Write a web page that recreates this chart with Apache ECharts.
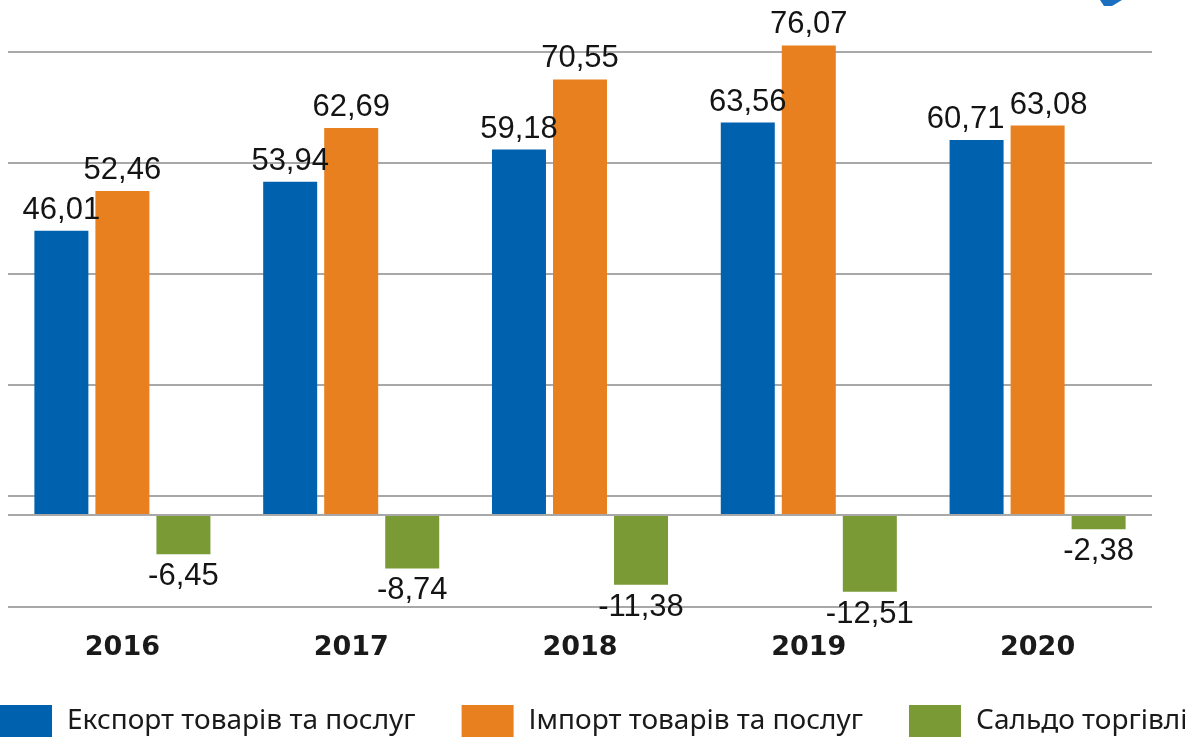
<!DOCTYPE html>
<html><head><meta charset="utf-8">
<script src="https://cdn.jsdelivr.net/npm/echarts/dist/echarts.min.js"></script>
<style>html,body{margin:0;padding:0;background:#fff}#c{width:1185px;height:737px}</style>
</head><body><div id="c"></div>
<script>
const years = ['2016', '2017', '2018', '2019', '2020'];
const exportVals = [46.01, 53.94, 59.18, 63.56, 60.71];
const importVals = [52.46, 62.69, 70.55, 76.07, 63.08];
const balanceVals = [-6.45, -8.74, -11.38, -12.51, -2.38];
const seriesNames = ['Експорт товарів та послуг', 'Імпорт товарів та послуг', 'Сальдо торгівлі'];
const colors = ['#0061AE', '#E8801F', '#7A9A36'];

const fmt = v => v.toFixed(2).replace('.', ',');
const labelFont = { fontFamily: 'Liberation Sans', fontSize: 31, color: '#141414' };

function buildData(vals, shiftIdx, shiftX) {
  return vals.map((v, i) => {
    const d = { value: v };
    if (i === shiftIdx) d.label = { offset: [shiftX, 0] };
    return d;
  });
}

const chart = echarts.init(document.getElementById('c'));
chart.setOption({
  animation: false,
  color: colors,
  grid: { left: 8, right: 33, top: 52, bottom: 130 },
  legend: {
    left: 0, top: 705, padding: 0, width: 1500,
    itemWidth: 52, itemHeight: 32, itemGap: 46,
    icon: 'rect',
    textStyle: { fontFamily: 'Noto Sans', fontSize: 28, color: '#1a1a1a', padding: [0, 0, 0, 10] },
    data: seriesNames
  },
  xAxis: {
    type: 'category',
    data: years,
    axisLine: { show: false },
    axisTick: { show: false },
    axisLabel: { fontFamily: 'DejaVu Sans', fontWeight: 'bold', fontSize: 27, color: '#1a1a1a', margin: 27 }
  },
  yAxis: [
    { type: 'value', min: -15, max: 75, show: false, splitLine: { show: false } },
    {
      type: 'value', min: 0, max: 5, interval: 1,
      axisLabel: { show: false }, axisLine: { show: false }, axisTick: { show: false },
      splitLine: { show: true, lineStyle: { color: '#a8a8a8', width: 2 } }
    }
  ],
  series: [
    {
      name: seriesNames[0], type: 'bar', yAxisIndex: 0, clip: false,
      barWidth: 54, barGap: '13%',
      data: buildData(exportVals, 4, -11),
      label: Object.assign({ show: true, position: 'top', distance: 5, formatter: p => fmt(p.value) }, labelFont)
    },
    {
      name: seriesNames[1], type: 'bar', yAxisIndex: 0, clip: false,
      barWidth: 54, barGap: '13%',
      data: buildData(importVals, 4, 11),
      label: Object.assign({ show: true, position: 'top', distance: 5, formatter: p => fmt(p.value) }, labelFont)
    },
    {
      name: seriesNames[2], type: 'bar', yAxisIndex: 0, clip: false,
      barWidth: 54, barGap: '13%',
      data: buildData(balanceVals, -1, 0),
      label: Object.assign({ show: true, position: 'bottom', distance: 7, formatter: p => fmt(p.value) }, labelFont),
      markLine: {
        silent: true, symbol: 'none', label: { show: false },
        lineStyle: { color: '#a8a8a8', width: 2, type: 'solid' },
        data: [{ yAxis: 0 }]
      }
    }
  ],
  graphic: [
    { type: 'polygon', shape: { points: [[1100, 0], [1122, 0], [1112, 6], [1104, 6]] }, style: { fill: '#1a6fc0' } }
  ]
});
</script>
</body></html>
